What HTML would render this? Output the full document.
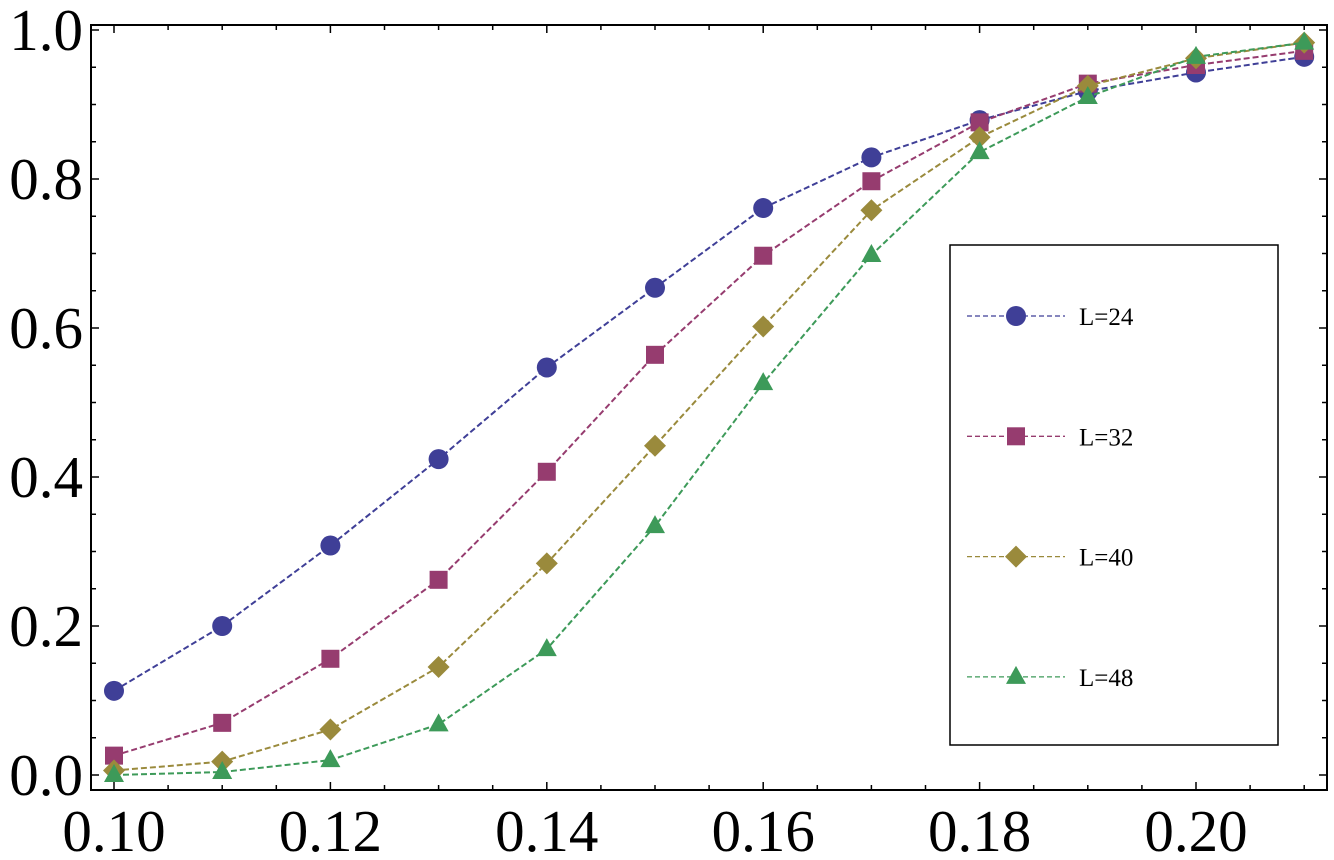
<!DOCTYPE html>
<html><head><meta charset="utf-8"><style>
html,body{margin:0;padding:0;background:#fff;}
svg{display:block;font-family:"Liberation Serif",serif;}
</style></head><body>
<svg id="chart" width="1334" height="860" xmlns="http://www.w3.org/2000/svg"></svg>
<script>
const xValues=[0.10,0.11,0.12,0.13,0.14,0.15,0.16,0.17,0.18,0.19,0.20,0.21];
const seriesL24=[0.113,0.200,0.308,0.424,0.547,0.654,0.761,0.829,0.879,0.918,0.943,0.964];
const seriesL32=[0.026,0.070,0.156,0.262,0.407,0.564,0.697,0.797,0.876,0.928,0.953,0.972];
const seriesL40=[0.006,0.018,0.061,0.145,0.284,0.442,0.602,0.758,0.856,0.925,0.962,0.983];
const seriesL48=[0.000,0.004,0.020,0.068,0.169,0.334,0.526,0.698,0.836,0.910,0.964,0.983];
const seriesNames=["L=24","L=32","L=40","L=48"];
const xTickLabels=["0.10","0.12","0.14","0.16","0.18","0.20"];
const yTickLabels=["0.0","0.2","0.4","0.6","0.8","1.0"];

const NS="http://www.w3.org/2000/svg";
const svg=document.getElementById('chart');
const X0=91,X1=1327,Y0=25,Y1=790;
function xs(v){return 114+(v-0.10)*10820;}
function ys(v){return 775-v*745;}
function mk(tag,attrs,parent){const e=document.createElementNS(NS,tag);for(const k in attrs)e.setAttribute(k,attrs[k]);(parent||svg).appendChild(e);return e;}

const frame=mk('rect',{x:X0,y:Y0,width:X1-X0,height:Y1-Y0,fill:'none',stroke:'#000','stroke-width':2});



for(let i=0;i<=24;i++){const v=0.095+i*0.005;const x=xs(v);if(x<X0||x>X1)continue;const major=Math.abs(Math.round(v*1000)%20)<1;const L=major?8:5;
 const t1=mk('line',{x1:x,x2:x,y1:Y1,y2:Y1-L,stroke:'#000','stroke-width':1.5});
 
 
 const t2=mk('line',{x1:x,x2:x,y1:Y0,y2:Y0+L,stroke:'#000','stroke-width':1.5});
 
 }
for(let i=0;i<=20;i++){const v=i*0.05;const y=ys(v);const major=i%4==0;const L=major?8:5;
 const t1=mk('line',{x1:X0,x2:X0+L,y1:y,y2:y,stroke:'#000','stroke-width':1.5});
 
 
 const t2=mk('line',{x1:X1,x2:X1-L,y1:y,y2:y,stroke:'#000','stroke-width':1.5});
 
 }
xTickLabels.forEach(s=>{const t=mk('text',{x:xs(parseFloat(s)),y:851,'font-size':59,'text-anchor':'middle'});t.textContent=s;
 
 });
yTickLabels.forEach(s=>{const t=mk('text',{x:83,y:ys(parseFloat(s))+20,'font-size':59,'text-anchor':'end'});t.textContent=s;
 
 });

const colors=['#3f3f97','#963c6f','#9a8a3c','#3d9a59'];
const shapes=['circle','square','diamond','triangle'];
function marker(shape,cx,cy,c,g){
 if(shape=='circle')return mk('circle',{cx,cy,r:10,fill:c},g);
 if(shape=='square')return mk('rect',{x:cx-9,y:cy-9,width:18,height:18,fill:c},g);
 if(shape=='diamond')return mk('polygon',{points:`${cx},${cy-11} ${cx+11},${cy} ${cx},${cy+11} ${cx-11},${cy}`,fill:c},g);
 return mk('polygon',{points:`${cx},${cy-11} ${cx+10},${cy+7} ${cx-10},${cy+7}`,fill:c},g);
}
const allSeries=[seriesL24,seriesL32,seriesL40,seriesL48];
allSeries.forEach((s,k)=>{
 const g=mk('g',{});
 
 
 const pts=s.map((v,i)=>xs(xValues[i])+','+ys(v)).join(' ');
 const pl=mk('polyline',{points:pts,fill:'none',stroke:colors[k],'stroke-width':2,'stroke-dasharray':'6,3'},g);
 
 
 s.forEach((v,i)=>{const m=marker(shapes[k],xs(xValues[i]),ys(v),colors[k],g);
  
  });
});

const lg=mk('g',{});


const lb=mk('rect',{x:950,y:245,width:328,height:500,fill:'#fff',stroke:'#000','stroke-width':1.5},lg);


seriesNames.forEach((n,k)=>{const y=316+k*120.3;
 const e=mk('g',{},lg);
 
 
 mk('line',{x1:967,x2:1065,y1:y,y2:y,stroke:colors[k],'stroke-width':1.3,'stroke-dasharray':'5,3'},e);
 marker(shapes[k],1016,y,colors[k],e);
 const t=mk('text',{x:1079,y:y+9,'font-size':25},e);t.textContent=n;
});
</script>
</body></html>
